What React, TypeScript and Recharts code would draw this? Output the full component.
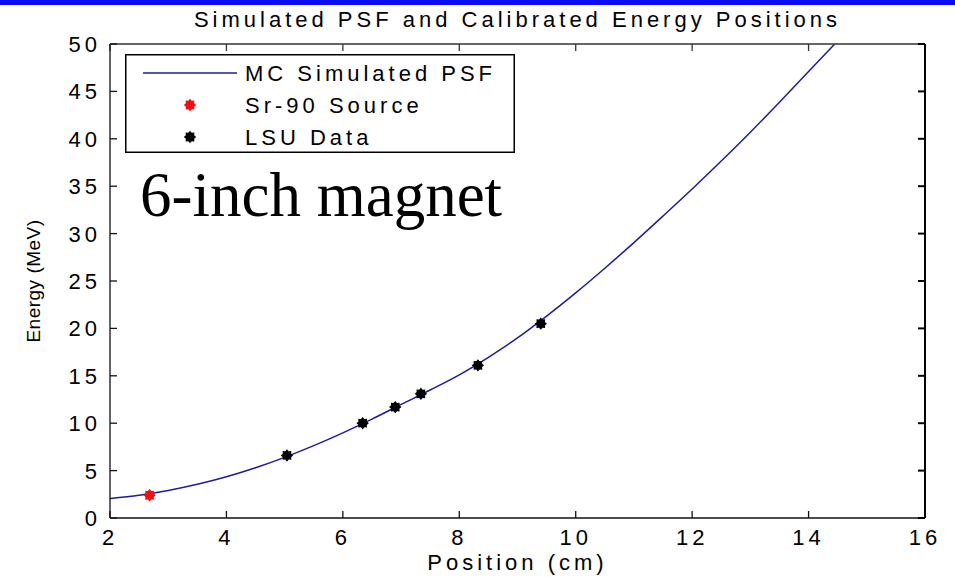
import React from "react"
import {
  ComposedChart,
  Line,
  Scatter,
  XAxis,
  YAxis,
  Legend,
} from "recharts"

// Monte Carlo point-spread curve: position (cm) vs energy (MeV)
const psfPosition = [2, 2.5, 3, 3.5, 4, 4.5, 5, 5.5, 6, 6.5, 7, 7.5, 8, 8.5, 9, 9.5, 10, 10.5, 11, 11.5, 12, 12.5, 13, 13.5, 14, 14.45]
const psfEnergy = [2.05, 2.4, 2.9, 3.55, 4.35, 5.3, 6.4, 7.63, 8.98, 10.43, 11.98, 13.5, 15.1, 16.95, 19.0, 21.3, 23.75, 26.35, 29.05, 31.85, 34.7, 37.65, 40.7, 43.85, 47.1, 50]

// calibration points
const srPosition = [2.68]
const srEnergy = [2.4]
const lsuPosition = [5.04, 6.34, 6.9, 7.34, 8.32, 9.4]
const lsuEnergy = [6.6, 10.0, 11.7, 13.1, 16.1, 20.5]

const xTicks = [2, 4, 6, 8, 10, 12, 14, 16]
const yTicks = [0, 5, 10, 15, 20, 25, 30, 35, 40, 45, 50]

const legendItems = [
  { name: "MC Simulated PSF", kind: "line", color: "#1c1c9c" },
  { name: "Sr-90 Source", kind: "dot", color: "#f01010" },
  { name: "LSU Data", kind: "dot", color: "#000000" },
]

const zip = (xs, ys) => xs.map((x, i) => ({ x, e: ys[i] }))
const psfData = zip(psfPosition, psfEnergy)
const srData = zip(srPosition, srEnergy)
const lsuData = zip(lsuPosition, lsuEnergy)

const FONT = "Arial, 'Liberation Sans', Helvetica, sans-serif"
const AXIS = "#111"

const starPoints = (cx, cy, ro, ri) => {
  const pts = []
  for (let i = 0; i < 16; i++) {
    const r = i % 2 === 0 ? ro : ri
    const a = (Math.PI * i) / 8
    pts.push(`${cx + r * Math.cos(a)},${cy + r * Math.sin(a)}`)
  }
  return pts.join(" ")
}

const Marker = ({ cx, cy, fill }) => (
  <polygon points={starPoints(cx, cy, 6.2, 4.5)} fill={fill} />
)

const XTick = ({ x, y, payload }) => (
  <text x={x} y={y} dy={16} textAnchor="middle" fontFamily={FONT} fontSize={22} fill="#000" style={{ letterSpacing: 4 }}>
    {payload.value}
  </text>
)

const YTick = ({ x, y, payload }) => (
  <text x={x} y={y} dy={8} textAnchor="end" fontFamily={FONT} fontSize={22} fill="#000" style={{ letterSpacing: 4 }}>
    {payload.value}
  </text>
)

const NoTick = () => <g />

const LegendBox = () => (
  <svg width={390} height={99} style={{ display: "block" }}>
    <rect x={0.75} y={0.75} width={388.5} height={97.5} fill="#fff" stroke="#000" strokeWidth={1.5} />
    {legendItems.map((item, i) => {
      const cy = 19 + i * 32
      return (
        <g key={item.name}>
          {item.kind === "line" ? (
            <line x1={18} x2={112} y1={cy} y2={cy} stroke={item.color} strokeWidth={1.5} />
          ) : (
            <Marker cx={65} cy={cy} fill={item.color} />
          )}
          <text x={120} y={cy + 8} fontFamily={FONT} fontSize={22} fill="#000" style={{ letterSpacing: 4 }}>
            {item.name}
          </text>
        </g>
      )
    })}
  </svg>
)

export default function App() {
  return (
    <div style={{ position: "absolute", left: 0, top: 0, width: 955, height: 577, background: "#fff", overflow: "hidden" }}>
      <div style={{ position: "absolute", left: 0, top: 0, width: 955, height: 5, background: "#0c0cf0" }} />
      <ComposedChart
        width={955}
        height={577}
        margin={{ top: 43, right: 29, bottom: 0, left: 10 }}
      >
        <XAxis
          dataKey="x"
          type="number"
          domain={[2, 16]}
          ticks={xTicks}
          allowDataOverflow
          height={59}
          stroke={AXIS}
          strokeWidth={1.3}
          tickSize={-7}
          tickMargin={18}
          tick={<XTick />}
          label={{
            content: ({ viewBox }) => (
              <text x={viewBox.x + viewBox.width / 2} y={viewBox.y + viewBox.height - 7} textAnchor="middle" fontFamily={FONT} fontSize={22} fill="#000" style={{ letterSpacing: 4 }}>
                Position (cm)
              </text>
            ),
          }}
        />
        <XAxis
          xAxisId="top"
          orientation="top"
          dataKey="x"
          type="number"
          domain={[2, 16]}
          ticks={xTicks}
          allowDataOverflow
          height={1}
          stroke="#333"
          strokeWidth={1.3}
          tickSize={-7}
          tick={<NoTick />}
          label={{
            content: ({ viewBox }) => (
              <text x={viewBox.x + viewBox.width / 2} y={viewBox.y - 16} textAnchor="middle" fontFamily={FONT} fontSize={22} fill="#000" style={{ letterSpacing: 4 }}>
                Simulated PSF and Calibrated Energy Positions
              </text>
            ),
          }}
        />
        <YAxis
          dataKey="e"
          type="number"
          domain={[0, 50]}
          ticks={yTicks}
          allowDataOverflow
          width={100}
          stroke={AXIS}
          strokeWidth={1.3}
          tickSize={-7}
          tickMargin={16}
          tick={<YTick />}
          label={{
            content: ({ viewBox }) => {
              const cx = viewBox.x + 23
              const cy = viewBox.y + viewBox.height / 2
              return (
                <text x={cx} y={cy} transform={`rotate(-90 ${cx} ${cy})`} textAnchor="middle" dominantBaseline="central" fontFamily={FONT} fontSize={19} fill="#000" style={{ letterSpacing: 0.5 }}>
                  Energy (MeV)
                </text>
              )
            },
          }}
        />
        <YAxis
          yAxisId="right"
          orientation="right"
          dataKey="e"
          type="number"
          domain={[0, 50]}
          ticks={yTicks}
          allowDataOverflow
          width={1}
          stroke="#000"
          strokeWidth={2}
          tickSize={-7}
          tick={<NoTick />}
        />
        <Legend
          layout="horizontal"
          verticalAlign="middle"
          align="center"
          wrapperStyle={{ left: 125, top: 54, width: 390, height: 99 }}
          content={() => <LegendBox />}
        />
        <Line
          data={psfData}
          dataKey="e"
          name="MC Simulated PSF"
          type="monotone"
          stroke="#1c1c9c"
          strokeWidth={1.5}
          dot={false}
          activeDot={false}
          isAnimationActive={false}
        />
        <Scatter
          data={srData}
          dataKey="e"
          name="Sr-90 Source"
          fill="#f01010"
          shape={(p) => <Marker cx={p.cx} cy={p.cy} fill="#f01010" />}
          isAnimationActive={false}
        />
        <Scatter
          data={lsuData}
          dataKey="e"
          name="LSU Data"
          fill="#000"
          shape={(p) => <Marker cx={p.cx} cy={p.cy} fill="#000" />}
          isAnimationActive={false}
        />
      </ComposedChart>
      <div
        style={{
          position: "absolute",
          left: 140,
          top: 164,
          fontFamily: "'Times New Roman', 'Liberation Serif', serif",
          fontSize: 63,
          lineHeight: 1,
          color: "#000",
          whiteSpace: "nowrap",
          pointerEvents: "none",
        }}
      >
        6-inch magnet
      </div>
    </div>
  )
}
